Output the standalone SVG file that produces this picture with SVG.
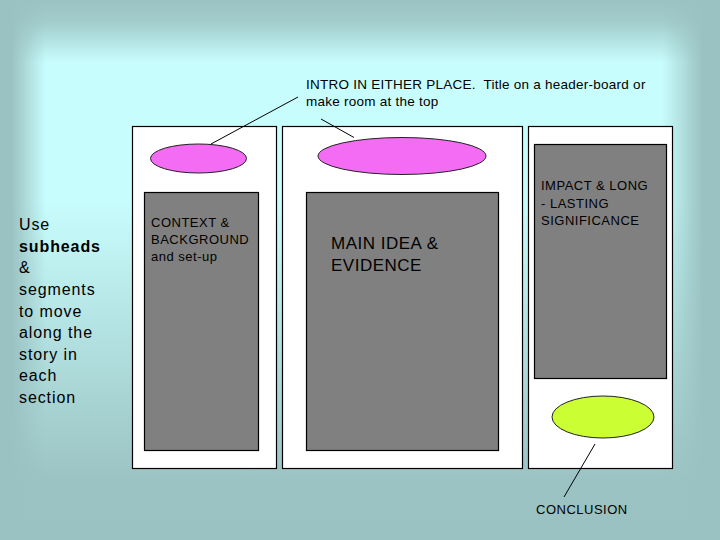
<svg xmlns="http://www.w3.org/2000/svg" width="720" height="540" viewBox="0 0 720 540">
<defs>
<linearGradient id="bgV" x1="0" y1="0" x2="0" y2="1">
<stop offset="0" stop-color="#9bc2c2"/>
<stop offset="0.04" stop-color="#a2cccc"/>
<stop offset="0.115" stop-color="#c8fdfd"/>
<stop offset="0.37" stop-color="#c8fdfd"/>
<stop offset="0.89" stop-color="#9cc3c3"/>
<stop offset="1" stop-color="#9bc2c2"/>
</linearGradient>
<linearGradient id="edgeL" x1="0" y1="0" x2="1" y2="0">
<stop offset="0" stop-color="#9bc2c2" stop-opacity="1"/>
<stop offset="0.25" stop-color="#9bc2c2" stop-opacity="1"/>
<stop offset="1" stop-color="#9bc2c2" stop-opacity="0"/>
</linearGradient>
<linearGradient id="edgeR" x1="1" y1="0" x2="0" y2="0">
<stop offset="0" stop-color="#9bc2c2" stop-opacity="1"/>
<stop offset="0.3" stop-color="#9bc2c2" stop-opacity="1"/>
<stop offset="1" stop-color="#9bc2c2" stop-opacity="0"/>
</linearGradient>
<style>
.panel{fill:#ffffff;stroke:#000;stroke-width:1.2}
.box{fill:#808080;stroke:#000;stroke-width:1.2}
.intro{fill:#f46cf4;stroke:#222;stroke-width:1}
.concl{fill:#ccff33;stroke:#222;stroke-width:1}
.conn{stroke:#000;stroke-width:1;fill:none}
text{font-family:"Liberation Sans",Arial,sans-serif;fill:#000}
.t13{font-size:13px;letter-spacing:0.5px}
.top{font-size:13.5px;letter-spacing:0.25px}
.side{font-size:16px;letter-spacing:0.9px}
.main{font-size:17px;letter-spacing:0.5px}
</style>
</defs>
<rect x="0" y="0" width="720" height="540" fill="url(#bgV)"/>
<rect x="0" y="0" width="46" height="540" fill="url(#edgeL)"/>
<rect x="662" y="0" width="58" height="540" fill="url(#edgeR)"/>

<g id="panel-left">
<rect class="panel" x="132.5" y="126.5" width="144" height="342"/>
</g>
<g id="panel-middle">
<rect class="panel" x="282.5" y="126.5" width="240" height="342"/>
</g>
<g id="panel-right">
<rect class="panel" x="528.5" y="126.5" width="144" height="342"/>
</g>

<g id="intro-left">
<ellipse class="intro" cx="198.5" cy="158.5" rx="48" ry="14.5"/>
</g>
<g id="intro-middle">
<ellipse class="intro" cx="402" cy="156" rx="84" ry="18.5"/>
</g>

<g id="context">
<rect class="box" x="144.5" y="192.5" width="114" height="258"/>
<text class="t13" x="151" y="226.5">CONTEXT &amp;</text>
<text class="t13" x="151" y="244">BACKGROUND</text>
<text class="t13" x="151" y="261">and set-up</text>
</g>

<g id="main-idea">
<rect class="box" x="306.5" y="192.5" width="192" height="258"/>
<text class="main" x="331" y="249">MAIN IDEA &amp;</text>
<text class="main" x="331" y="270.5">EVIDENCE</text>
</g>

<g id="impact">
<rect class="box" x="534.5" y="144.5" width="132" height="234"/>
<text class="t13" x="541" y="190">IMPACT &amp; LONG</text>
<text class="t13" x="541" y="207.5">- LASTING</text>
<text class="t13" x="541" y="225">SIGNIFICANCE</text>
</g>

<g id="conclusion">
<ellipse class="concl" cx="603" cy="417" rx="51" ry="21"/>
</g>

<g id="intro-label">
<text class="top" x="306" y="89" xml:space="preserve">INTRO IN EITHER PLACE.  Title on a header-board or</text>
<text class="top" x="306" y="106">make room at the top</text>
</g>

<g id="conclusion-label">
<text class="t13" x="536" y="514">CONCLUSION</text>
</g>

<g id="side-note">
<text class="side" x="19" y="230">Use</text>
<text class="side" x="19" y="252" font-weight="bold">subheads</text>
<text class="side" x="19" y="273">&amp;</text>
<text class="side" x="19" y="295">segments</text>
<text class="side" x="19" y="316.5">to move</text>
<text class="side" x="19" y="338">along the</text>
<text class="side" x="19" y="359.5">story in</text>
<text class="side" x="19" y="381">each</text>
<text class="side" x="19" y="402.5">section</text>
</g>

<g id="connectors">
<line class="conn" x1="298" y1="97" x2="211" y2="144"/>
<line class="conn" x1="321" y1="119" x2="354" y2="137.5"/>
<line class="conn" x1="595" y1="444" x2="564" y2="497"/>
</g>
</svg>
